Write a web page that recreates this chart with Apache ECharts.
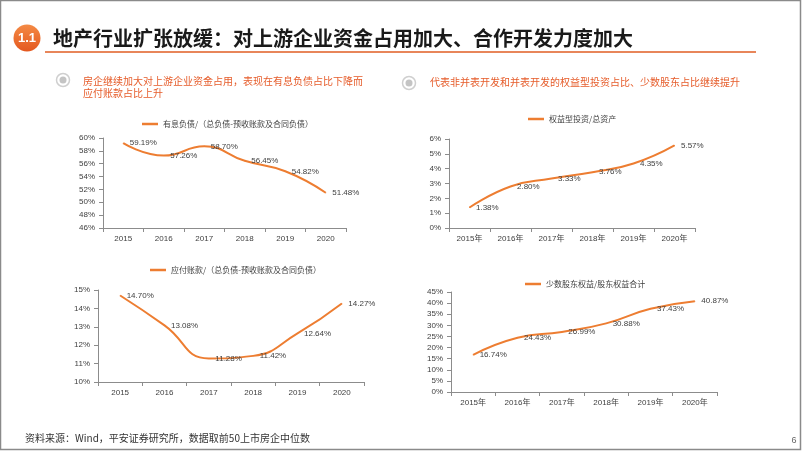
<!DOCTYPE html>
<html><head><meta charset="utf-8">
<script src="https://cdn.jsdelivr.net/npm/echarts@6/dist/echarts.min.js"></script>
<style>html,body{margin:0;padding:0;background:#fff}#c{width:802px;height:451px}</style>
</head><body><div id="c"></div>
<script>
const years = ['2015','2016','2017','2018','2019','2020'];
const yearsNian = ['2015年','2016年','2017年','2018年','2019年','2020年'];
const debtName = '有息负债/（总负债-预收账款及合同负债）';
const debtValues = [59.19, 57.26, 58.70, 56.45, 54.82, 51.48];
const equityInvName = '权益型投资/总资产';
const equityInvValues = [1.38, 2.80, 3.33, 3.76, 4.35, 5.57];
const payableName = '应付账款/（总负债-预收账款及合同负债）';
const payableValues = [14.70, 13.08, 11.28, 11.42, 12.64, 14.27];
const minorityName = '少数股东权益/股东权益合计';
const minorityValues = [16.74, 24.43, 26.99, 30.88, 37.43, 40.87];
const titleText = '地产行业扩张放缓：对上游企业资金占用加大、合作开发力度加大';
const subLeft1 = '房企继续加大对上游企业资金占用，表现在有息负债占比下降而';
const subLeft2 = '应付账款占比上升';
const subRight = '代表非并表开发和并表开发的权益型投资占比、少数股东占比继续提升';
const footText = '资料来源：Wind，平安证券研究所，数据取前50上市房企中位数';

const FONT = '"Liberation Sans", "Noto Sans CJK SC", sans-serif';
const CJK = '"Noto Sans CJK SC", sans-serif';
const ORANGE = '#ED7D31';
const TXT = '#404040';

const grids = [
  {left:103, top:138, width:243, height:90},
  {left:449, top:139, width:246, height:89},
  {left:98, top:290, width:266, height:92},
  {left:451, top:292, width:266, height:100}
];
const yCfg = [
  {min:46, max:60, interval:2},
  {min:0, max:6, interval:1},
  {min:10, max:15, interval:1},
  {min:0, max:45, interval:5}
];
const cats = [years, yearsNian, years, yearsNian];
const names = [debtName, equityInvName, payableName, minorityName];
const vals = [debtValues, equityInvValues, payableValues, minorityValues];
const legendPos = [[142,120],[528,115],[150,266],[525,280]];

const axisLine = {show:true, lineStyle:{color:'#8c8c8c', width:1}};
const option = {
  animation:false,
  textStyle:{fontFamily:FONT},
  grid: grids.map(g=>Object.assign({containLabel:false}, g)),
  legend: names.map((n,i)=>({
    data:[n], left:legendPos[i][0], top:legendPos[i][1], padding:0,
    icon:'rect', itemWidth:16, itemHeight:2.5, itemGap:4,
    textStyle:{fontSize:8, color:TXT, fontFamily:CJK}
  })),
  xAxis: cats.map((c,i)=>({
    type:'category', gridIndex:i, data:c, boundaryGap:true,
    axisLine:axisLine, axisTick:{show:true, length:4, lineStyle:{color:'#8c8c8c'}},
    axisLabel:{fontSize:8, color:TXT, margin:7, fontFamily:FONT}
  })),
  yAxis: yCfg.map((y,i)=>({
    type:'value', gridIndex:i, min:y.min, max:y.max, interval:y.interval,
    axisLine:axisLine, axisTick:{show:true, length:4, lineStyle:{color:'#8c8c8c'}},
    splitLine:{show:false},
    axisLabel:{fontSize:8, color:TXT, margin:8, formatter:'{value}%', fontFamily:FONT}
  })),
  series: vals.map((v,i)=>({
    type:'line', name:names[i], xAxisIndex:i, yAxisIndex:i, data:v,
    smooth:0.5, symbol:'circle', symbolSize:1, showSymbol:true,
    lineStyle:{color:ORANGE, width:2}, itemStyle:{color:ORANGE},
    label:{show:true, position:'right', distance:6, fontSize:8, color:TXT, fontFamily:FONT,
      formatter:p=>p.value.toFixed(2)+'%'}
  })),
  graphic: [
    {type:'rect', shape:{x:0.5,y:0.5,width:800,height:449}, style:{fill:'none', stroke:'#8a8a8a', lineWidth:1.5}, silent:true},
    {type:'circle', shape:{cx:27, cy:38, r:13.5}, style:{fill:{type:'linear',x:0,y:0,x2:0,y2:1,colorStops:[{offset:0,color:'#F48A45'},{offset:1,color:'#E4581F'}]}}},
    {type:'text', x:27, y:38.5, style:{text:'1.1', fill:'#fff', font:'bold 13px "Liberation Sans", sans-serif', align:'center', verticalAlign:'middle'}},
    {type:'text', x:53, y:38.5, style:{text:titleText, fill:'#1a1a1a', font:'bold 20px "Noto Sans CJK SC", sans-serif', verticalAlign:'middle'}},
    {type:'line', shape:{x1:45,y1:52,x2:756,y2:52}, style:{stroke:'#E8865A', lineWidth:2}},
    {type:'circle', shape:{cx:63, cy:80, r:6.5}, style:{fill:'#fff', stroke:'#cfcfcf', lineWidth:1.5}},
    {type:'circle', shape:{cx:63, cy:80, r:3.5}, style:{fill:'#c4c4c4'}},
    {type:'text', x:83, y:81, style:{text:subLeft1, fill:'#E65C2A', font:'10px "Noto Sans CJK SC", sans-serif', verticalAlign:'middle'}},
    {type:'text', x:83, y:93, style:{text:subLeft2, fill:'#E65C2A', font:'10px "Noto Sans CJK SC", sans-serif', verticalAlign:'middle'}},
    {type:'circle', shape:{cx:409, cy:83, r:6.5}, style:{fill:'#fff', stroke:'#cfcfcf', lineWidth:1.5}},
    {type:'circle', shape:{cx:409, cy:83, r:3.5}, style:{fill:'#c4c4c4'}},
    {type:'text', x:430, y:82.5, style:{text:subRight, fill:'#E65C2A', font:'10px "Noto Sans CJK SC", sans-serif', verticalAlign:'middle'}},
    {type:'text', x:25, y:438, style:{text:footText, fill:'#333', font:'10px "Noto Sans CJK SC", sans-serif', verticalAlign:'middle'}},
    {type:'text', x:794, y:441, style:{text:'6', fill:'#666', font:'9px "Liberation Sans", sans-serif', align:'center', verticalAlign:'middle'}}
  ]
};
const chart = echarts.init(document.getElementById('c'), null, {renderer:'canvas'});
chart.setOption(option);
</script></body></html>
